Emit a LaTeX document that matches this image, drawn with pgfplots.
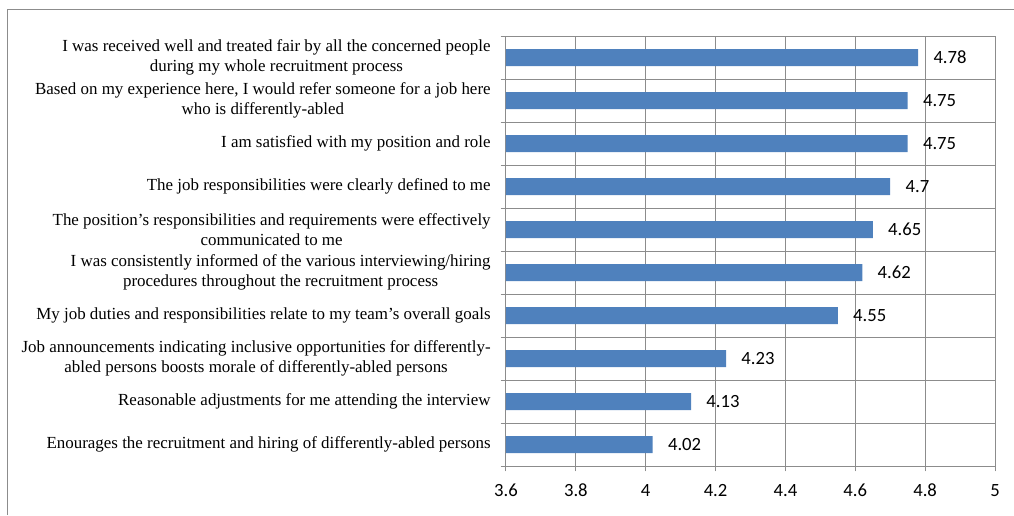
\documentclass[border=0pt]{standalone}
\usepackage{pgfplots}
\pgfplotsset{compat=1.18}
\usepackage{fontspec}
\setmainfont{Liberation Serif}
\newfontfamily\calfont{Carlito}
\definecolor{barblue}{HTML}{4F81BD}
\definecolor{gridgray}{HTML}{8C8C8C}
\begin{document}
\begin{tikzpicture}
\useasboundingbox (0pt,0pt) rectangle (760.5pt,-386.25pt);
\draw[gridgray, line width=1.1pt] (5.625pt,-386.25pt) -- (5.625pt,-7.125pt) -- (760.5pt,-7.125pt);
\begin{axis}[
  at={(379.5pt,-349.5pt)}, anchor=south west,
  scale only axis, width=366.75pt, height=322.5pt,
  xbar, xmin=3.6, xmax=5, ymin=-0.5, ymax=9.5,
  xtick={3.6,3.8,4,4.2,4.4,4.6,4.8,5},
  xticklabels={3.6,3.8,4,4.2,4.4,4.6,4.8,5},
  ytick={-0.5,0.5,1.5,2.5,3.5,4.5,5.5,6.5,7.5,8.5,9.5},
  yticklabels={},
  xtick pos=bottom, ytick pos=left,
  xmajorgrids, ymajorgrids,
  grid style={gridgray, line width=0.75pt},
  axis line style={gridgray, line width=0.75pt},
  tick style={gridgray, line width=0.75pt},
  tick align=outside, major tick length=4pt,
  extra y ticks={0,1,2,3,4,5,6,7,8,9},
  extra y tick labels={
    Enourages the recruitment and hiring of differently-abled persons,
    Reasonable adjustments for me attending the interview,
    Job announcements indicating inclusive opportunities for differently-\\abled persons boosts morale of differently-abled persons,
    My job duties and responsibilities relate to my team’s overall goals,
    I was consistently informed of the various interviewing/hiring\\procedures throughout the recruitment process,
    The position’s responsibilities and requirements were effectively\\communicated to me,
    The job responsibilities were clearly defined to me,
    I am satisfied with my position and role,
    {Based on my experience here, I would refer someone for a job here\\who is differently-abled},
    I was received well and treated fair by all the concerned people\\during my whole recruitment process
  },
  extra y tick style={grid=none, major tick length=0pt,
    yticklabel style={align=center, font=\fontsize{12.7}{15}\selectfont, anchor=east, xshift=-8pt}},
  xticklabel style={font=\calfont\fontsize{14}{16}\selectfont, yshift=-6pt},
  bar width=12.75pt,
  nodes near coords,
  point meta=explicit symbolic,
  nodes near coords style={font=\calfont\fontsize{14}{16}\selectfont, anchor=west, xshift=8pt},
]
\addplot[fill=barblue, draw=none] coordinates {
  (4.02,0) [4.02]
  (4.13,1) [4.13]
  (4.23,2) [4.23]
  (4.55,3) [4.55]
  (4.62,4) [4.62]
  (4.65,5) [4.65]
  (4.7,6) [4.7]
  (4.75,7) [4.75]
  (4.75,8) [4.75]
  (4.78,9) [4.78]
};
\end{axis}
\end{tikzpicture}
\end{document}
